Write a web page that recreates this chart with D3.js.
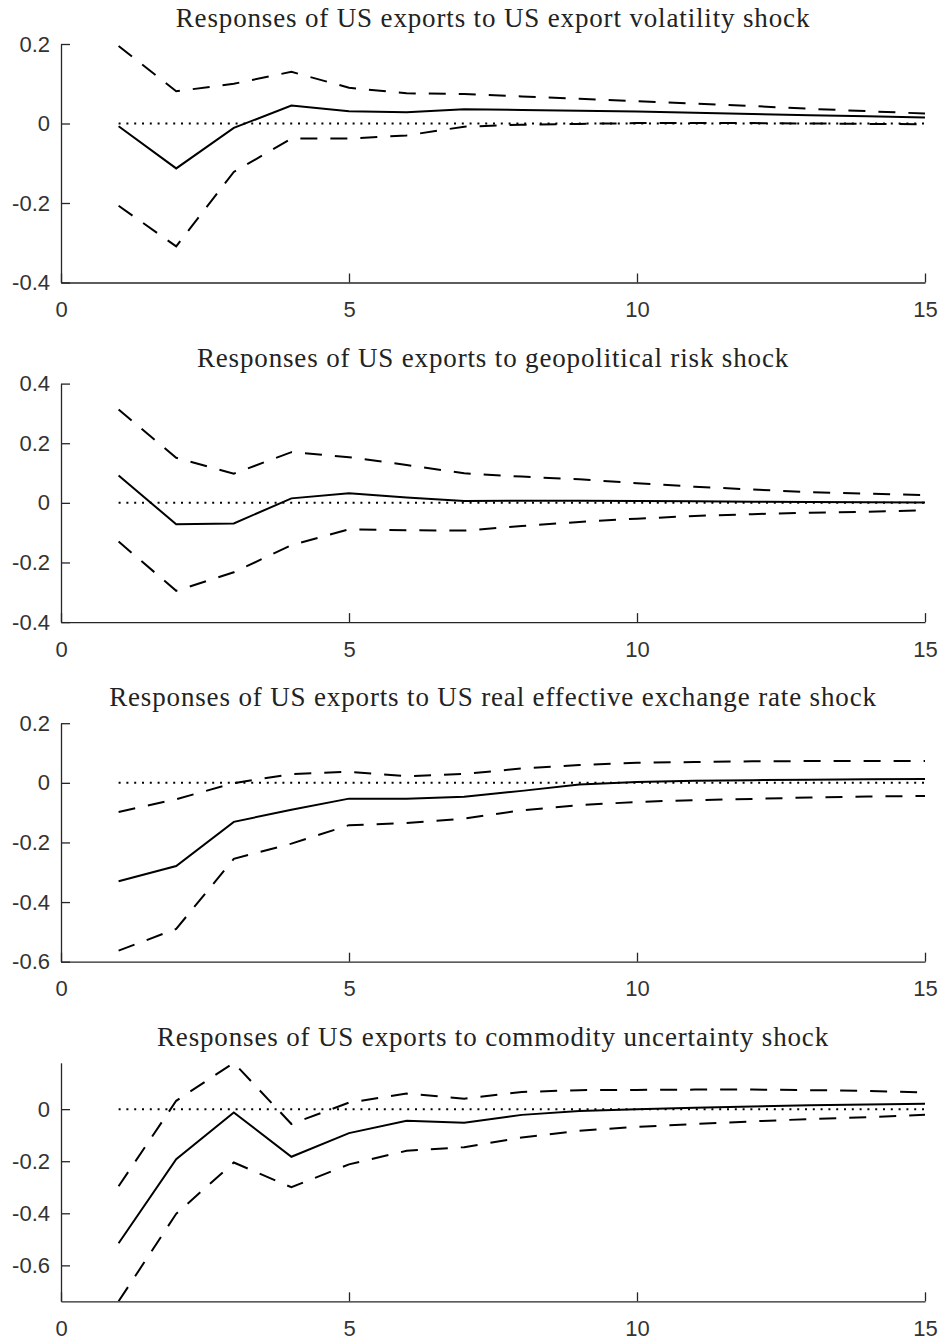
<!DOCTYPE html>
<html>
	<head>
		<meta http-equiv="Content-Type" content="text/html;charset=utf-8"/>
		<title>Responses of US exports</title>
		<script src="https://d3js.org/d3.v7.min.js"></script>
		<style type="text/css">

			body {
				margin: 0;
				background: #fff;
			}

			.title {
				font-family: "Liberation Serif", "DejaVu Serif", serif;
				font-size: 27px;
				letter-spacing: 0.85px;
				fill: #222;
			}

			.axis text {
				font-family: "Liberation Sans", Arial, sans-serif;
				font-size: 22px;
				fill: #333;
			}

			.axis path, .axis line {
				stroke: #262626;
				stroke-width: 1.3;
			}

			.irf {
				fill: none;
				stroke: #000;
				stroke-width: 2;
			}

			.band {
				fill: none;
				stroke: #000;
				stroke-width: 2;
				stroke-dasharray: 17, 13;
			}

			.zero {
				fill: none;
				stroke: #000;
				stroke-width: 2;
				stroke-dasharray: 2, 5.8;
			}

		</style>
	</head>
	<body>
		<script type="text/javascript">

			//Horizons on the x axis
			var periods = [1, 2, 3, 4, 5, 6, 7, 8, 9, 10, 11, 12, 13, 14, 15];
			var xTicks = [0, 5, 10, 15];

			//Panel titles
			var titles = [
				"Responses of US exports to US export volatility shock",
				"Responses of US exports to geopolitical risk shock",
				"Responses of US exports to US real effective exchange rate shock",
				"Responses of US exports to commodity uncertainty shock"
			];

			//Export volatility shock
			var irfVol = [-0.007, -0.113, -0.011, 0.045, 0.031, 0.028, 0.036, 0.034, 0.032, 0.030, 0.027, 0.024, 0.021, 0.018, 0.015];
			var upVol  = [0.195, 0.081, 0.100, 0.130, 0.090, 0.076, 0.074, 0.068, 0.062, 0.056, 0.050, 0.044, 0.037, 0.031, 0.025];
			var loVol  = [-0.207, -0.309, -0.122, -0.038, -0.038, -0.030, -0.008, -0.003, -0.001, 0.001, 0.001, 0.001, 0.000, -0.001, -0.002];

			//Geopolitical risk shock
			var irfGpr = [0.092, -0.072, -0.069, 0.015, 0.032, 0.018, 0.006, 0.007, 0.007, 0.006, 0.005, 0.004, 0.003, 0.002, 0.001];
			var upGpr  = [0.313, 0.151, 0.098, 0.170, 0.153, 0.127, 0.099, 0.088, 0.079, 0.066, 0.054, 0.045, 0.036, 0.031, 0.026];
			var loGpr  = [-0.130, -0.295, -0.233, -0.142, -0.089, -0.092, -0.093, -0.078, -0.064, -0.053, -0.044, -0.038, -0.033, -0.030, -0.025];

			//Real effective exchange rate shock
			var irfReer = [-0.330, -0.279, -0.131, -0.090, -0.053, -0.053, -0.047, -0.027, -0.006, 0.003, 0.007, 0.009, 0.010, 0.012, 0.013];
			var upReer  = [-0.098, -0.055, -0.001, 0.029, 0.037, 0.022, 0.030, 0.048, 0.060, 0.067, 0.070, 0.072, 0.073, 0.073, 0.073];
			var loReer  = [-0.563, -0.490, -0.255, -0.204, -0.142, -0.135, -0.120, -0.092, -0.075, -0.064, -0.058, -0.054, -0.049, -0.046, -0.044];

			//Commodity uncertainty shock
			var irfCom = [-0.515, -0.192, -0.013, -0.183, -0.092, -0.045, -0.052, -0.022, -0.007, 0.000, 0.005, 0.010, 0.015, 0.018, 0.021];
			var upCom  = [-0.296, 0.032, 0.178, -0.057, 0.025, 0.060, 0.040, 0.066, 0.073, 0.074, 0.075, 0.075, 0.073, 0.070, 0.064];
			var loCom  = [-0.738, -0.402, -0.205, -0.300, -0.212, -0.160, -0.146, -0.109, -0.083, -0.068, -0.057, -0.047, -0.038, -0.031, -0.022];

			//Y limits and ticks of each panel
			var yDomains = [[-0.4, 0.2], [-0.4, 0.4], [-0.6, 0.2], [-0.738, 0.178]];
			var yTicks = [
				[-0.4, -0.2, 0, 0.2],
				[-0.4, -0.2, 0, 0.2, 0.4],
				[-0.6, -0.4, -0.2, 0, 0.2],
				[-0.6, -0.4, -0.2, 0]
			];

			var panels = [
				{ irf: irfVol, up: upVol, lo: loVol },
				{ irf: irfGpr, up: upGpr, lo: loGpr },
				{ irf: irfReer, up: upReer, lo: loReer },
				{ irf: irfCom, up: upCom, lo: loCom }
			];



			//Size of the page and of each plot
			var w = 946,
				h = 1342,
				left = 61,
				right = 925,
				top0 = 44,
				ph = 238.5,
				step = 339.6,
				tickLen = 9;

			var svg = d3.select("body").append("svg")
						.attr("width", w)
						.attr("height", h);

			var xScale = d3.scaleLinear()
							.domain([0, 15])
							.range([left, right]);



			panels.forEach(function(p, i) {

				var top = top0 + i * step;

				var yScale = d3.scaleLinear()
								.domain(yDomains[i])
								.range([top + ph, top]);

				var g = svg.append("g");

				//Clip lines to the plot area
				g.append("clipPath")
					.attr("id", "clip" + i)
					.append("rect")
					.attr("x", left)
					.attr("y", top)
					.attr("width", right - left)
					.attr("height", ph);

				//Title
				g.append("text")
					.attr("class", "title")
					.attr("x", (left + right) / 2)
					.attr("y", top - 17)
					.attr("text-anchor", "middle")
					.text(titles[i]);

				//Axes, ticks pointing inward
				var xAxis = d3.axisBottom(xScale)
								.tickValues(xTicks)
								.tickSize(-tickLen)
								.tickPadding(19)
								.tickSizeOuter(0)
								.tickFormat(function(d) { return String(d); });

				var yAxis = d3.axisLeft(yScale)
								.tickValues(yTicks[i])
								.tickSize(-tickLen)
								.tickPadding(11)
								.tickSizeOuter(0)
								.tickFormat(function(d) { return String(d); });

				var gx = g.append("g")
					.attr("class", "axis")
					.attr("transform", "translate(0," + (top + ph) + ")")
					.call(xAxis);
				gx.selectAll(".tick text").attr("dy", "0.71em");

				g.append("g")
					.attr("class", "axis")
					.attr("transform", "translate(" + left + ",0)")
					.call(yAxis);

				var line = d3.line()
							.x(function(d, j) { return xScale(periods[j]); })
							.y(function(d) { return yScale(d); });

				var plot = g.append("g")
							.attr("clip-path", "url(#clip" + i + ")");

				//Zero line
				plot.append("path")
					.attr("class", "zero")
					.attr("d", line(periods.map(function() { return 0; })));

				plot.append("path")
					.attr("class", "band")
					.attr("d", line(p.up));

				plot.append("path")
					.attr("class", "band")
					.attr("d", line(p.lo));

				plot.append("path")
					.attr("class", "irf")
					.attr("d", line(p.irf));
			});

		</script>
	</body>
</html>
